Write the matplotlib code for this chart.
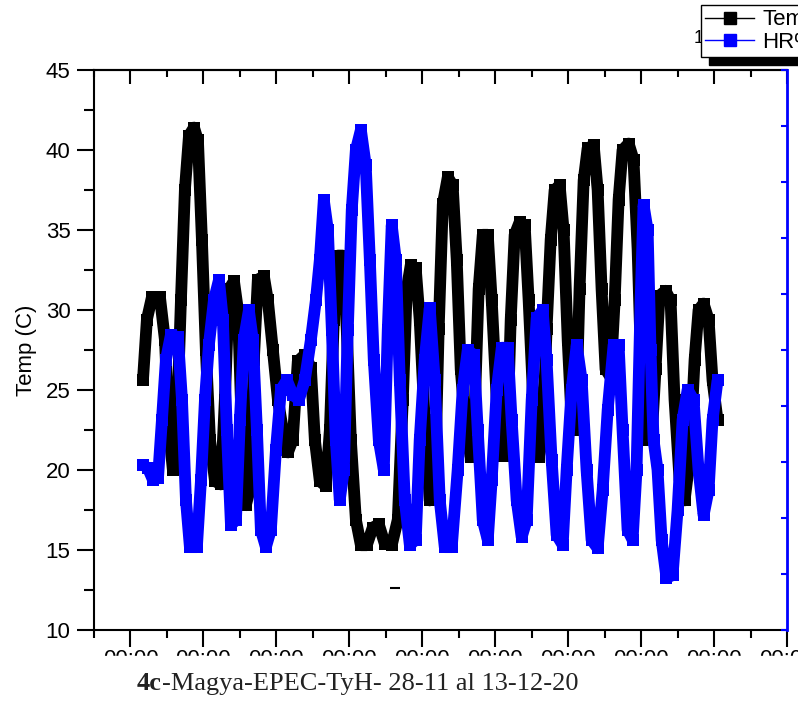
import pandas as pd
import matplotlib
matplotlib.use('Agg')
import matplotlib.pyplot as plt
import matplotlib.dates as mdates
from matplotlib.lines import Line2D
from matplotlib.patches import Rectangle
from matplotlib.ticker import MultipleLocator, FixedLocator, NullFormatter

plt.rcParams['font.family'] = ['Liberation Sans', 'DejaVu Sans']

# time in hours since 28-11-2020 00:00
start = pd.Timestamp('2020-11-28 00:00')

temp_h = [8.2, 10.8, 14.1, 19.4, 22.7, 25.3, 27.9, 30.6, 33.2, 35.8, 38.5, 41.8, 44.4, 47.0,
          49.6, 52.3, 55.6, 59.5, 62.1, 64.8, 68.1, 70.7, 73.3, 75.9, 78.6, 81.2, 83.8, 87.8,
          90.4, 93.7, 97.0, 100.3, 103.6, 106.8, 110.1, 114.7, 118.7, 121.3, 124.6, 128.5,
          131.2, 133.8, 136.4, 139.7, 142.3, 145.0, 148.3, 151.6, 155.5, 159.4, 163.4, 167.3,
          171.9, 175.9, 179.2, 181.8, 184.4, 187.7, 190.3, 193.6, 196.9, 200.2, 202.8, 205.5,
          208.8, 212.0, 214.7, 217.3, 220.6, 223.9, 226.5, 229.1, 231.8, 235.1, 237.7, 241.0,
          244.3, 247.5, 250.2, 252.8, 256.1, 259.4, 262.0, 265.3, 268.6, 271.2, 273.8, 276.5,
          279.1, 282.4, 285.0, 287.7, 290.3, 292.9, 295.5, 298.2, 300.8, 304.8, 307.4, 310.0,
          312.6, 315.9, 318.6, 321.2, 323.8, 327.8, 331.0, 333.7, 336.3, 339.6, 342.9, 345.5,
          348.1, 352.1, 355.4, 358.0, 361.3, 364.6, 367.9, 371.2, 373.8, 377.1, 380.4, 383.0,
          386.3]
temp_c = [25.6, 29.4, 30.8, 30.8, 28.1, 22.5, 20.0, 23.1, 30.6, 37.5, 40.9, 41.4, 40.6, 34.4,
          27.5, 21.9, 19.3, 19.1, 24.4, 31.3, 31.8, 30.0, 22.5, 17.8, 18.8, 26.9, 31.9, 32.1,
          30.6, 27.5, 24.4, 22.5, 21.1, 21.9, 26.8, 27.2, 26.4, 21.9, 19.3, 19.0,
          22.5, 29.4, 33.4, 33.4, 28.8, 21.9, 16.9, 15.3, 15.3, 16.4, 16.6, 15.4,
          15.3, 16.9, 24.4, 31.3, 32.8, 32.6, 29.4, 23.1, 18.1, 18.8, 28.8, 36.6,
          38.3, 37.8, 33.1, 26.3, 22.5, 20.8, 23.8, 31.3, 34.7, 34.7, 30.6, 24.4,
          20.9, 20.9, 29.4, 34.7, 35.5, 35.3, 30.6, 23.8, 20.8, 21.9, 28.8, 34.4,
          37.5, 37.8, 35.0, 28.1, 23.1, 22.5, 31.3, 38.1, 40.1, 40.3, 37.5, 31.3,
          26.3, 25.8, 30.6, 36.9, 40.0, 40.4, 39.4, 33.8, 25.6, 21.9, 21.9, 26.3,
          30.9, 31.2, 30.6, 24.4, 19.4, 18.1, 20.6, 26.9, 30.0, 30.4, 29.4, 25.6,
          23.1]

# isolated low reading
glitch_h = [173.9]
glitch_c = [12.6]

hr_h = [8.2, 11.5, 14.8, 18.1, 20.7, 23.3, 26.6, 31.2, 33.9, 36.5, 39.1, 43.7, 46.4, 49.0,
        51.6, 54.9, 58.2, 60.8, 63.4, 66.1, 69.4, 72.0, 74.6, 77.9, 80.5, 83.2, 85.8, 89.1,
        92.4, 95.7, 99.0, 102.9, 106.8, 110.8, 114.7, 118.7, 122.0, 124.6, 127.2, 129.9,
        132.5, 135.1, 137.7, 140.4, 143.0, 145.6, 148.3, 151.6, 154.8, 157.5, 160.1, 163.4,
        166.7, 169.3, 171.9, 174.6, 177.2, 180.5, 183.8, 187.7, 190.3, 193.6, 196.9, 200.2,
        203.5, 206.8, 211.4, 215.3, 218.6, 221.9, 225.9, 228.5, 231.8, 235.1, 237.7, 241.0,
        244.3, 248.2, 250.8, 254.1, 257.4, 260.7, 264.0, 267.3, 271.2, 273.8, 277.1, 280.4,
        284.4, 287.0, 290.3, 293.6, 296.9, 300.1, 303.4, 307.4, 310.7, 314.0, 317.9, 321.2,
        323.8, 327.1, 330.4, 333.0, 335.7, 337.6, 340.3, 342.2, 344.2, 346.8, 349.5, 352.7,
        356.7, 360.0, 363.3, 366.6, 370.5, 373.8, 377.1, 380.4, 383.0, 386.3]
hr_pct = [29.5, 28.9, 26.8, 27.1, 37.5, 48.2, 52.7, 52.3, 41.1, 23.2, 14.8, 14.8, 26.8, 41.1,
          50.9, 58.9, 62.5, 55.4, 35.7, 18.8, 19.6, 37.5, 51.8, 57.1, 51.8, 35.7, 17.9, 14.8,
          17.9, 32.1, 42.9, 44.6, 42.0, 41.1, 44.6, 51.8, 58.9, 66.1, 76.8, 71.4,
          53.6, 33.9, 23.2, 28.6, 53.6, 75.0, 85.7, 89.3, 83.0, 66.1, 48.2, 33.9,
          28.6, 53.6, 72.3, 66.1, 44.6, 23.2, 15.2, 16.1, 33.9, 48.2, 57.5, 44.6,
          23.2, 14.8, 14.8, 28.6, 42.9, 50.0, 49.1, 35.7, 19.6, 16.1, 26.8, 42.9,
          50.4, 50.4, 37.5, 23.2, 16.6, 19.6, 41.1, 55.7, 57.1, 48.2, 30.4, 17.0,
          15.2, 28.6, 42.9, 50.9, 44.6, 28.6, 16.1, 14.6, 25.0, 39.3, 50.9, 50.9,
          35.7, 17.9, 16.1, 28.6, 58.9, 75.9, 71.4, 50.0, 33.9, 28.6, 16.1, 9.3,
          9.8, 21.4, 37.5, 42.9, 41.1, 28.6, 20.5, 25.0, 37.5, 44.6]

major_days = pd.date_range('2020-11-28', '2020-12-16', freq='2D')
minor_days = pd.date_range('2020-11-27', '2020-12-16', freq='D')
caption_bold = '4c'
caption_rest = '-Magya-EPEC-TyH- 28-11 al 13-12-20'

t_temp = start + pd.to_timedelta(temp_h, unit='h')
t_hr = start + pd.to_timedelta(hr_h, unit='h')
t_glitch = start + pd.to_timedelta(glitch_h, unit='h')

fig = plt.figure(figsize=(7.98, 7.03), dpi=100)
ax = fig.add_axes([94/798, 73/703, 693/798, 560/703])

ax.plot(t_temp, temp_c, color='black', lw=8.5, marker='s', ms=9, mew=0,
        solid_joinstyle='round', solid_capstyle='butt')
ax.plot(t_glitch, glitch_c, ls='none', marker='_', ms=7, mew=1.5, color='black')

major_nums = mdates.date2num(major_days)
minor_nums = mdates.date2num(minor_days)
ax.set_xlim(minor_nums[0], minor_nums[-1])
ax.set_ylim(10, 45)
ax.xaxis.set_major_locator(FixedLocator(major_nums))
ax.xaxis.set_minor_locator(FixedLocator(minor_nums))
ax.xaxis.set_major_formatter(mdates.DateFormatter('%H:%M'))
ax.yaxis.set_major_locator(MultipleLocator(5))
ax.yaxis.set_minor_locator(MultipleLocator(2.5))
ax.set_ylabel('Temp (C)', fontsize=16, labelpad=6)

ax.tick_params(axis='x', which='major', direction='out', length=12, width=1.5, labelsize=16, pad=2)
ax.tick_params(axis='x', which='minor', direction='out', length=6, width=1.5)
ax.tick_params(axis='y', which='major', direction='out', length=12, width=1.5, labelsize=16, pad=5)
ax.tick_params(axis='y', which='minor', direction='out', length=7, width=1.5)
ax.tick_params(which='both', top=False, right=False)
for s in ['left', 'bottom', 'top']:
    ax.spines[s].set_linewidth(1.5)
ax.spines['right'].set_visible(False)

# top ticks point inward
sec = ax.secondary_xaxis('top')
sec.xaxis.set_major_locator(FixedLocator(major_nums))
sec.xaxis.set_minor_locator(FixedLocator(minor_nums))
sec.xaxis.set_major_formatter(NullFormatter())
sec.tick_params(which='major', direction='in', length=10, width=1.5, labeltop=False)
sec.tick_params(which='minor', direction='in', length=5, width=1.5)
sec.spines['top'].set_linewidth(1.5)

ax2 = ax.twinx()
ax2.plot(t_hr, hr_pct, color='#0000ff', lw=8.5, marker='s', ms=9, mew=0,
         solid_joinstyle='round', solid_capstyle='butt')
ax2.set_ylim(0, 100)
ax2.set_yticks(range(0, 101, 10))
ax2.tick_params(axis='y', direction='in', length=4, width=1.5, color='#0000ff', labelright=False)
for s in ['left', 'bottom', 'top']:
    ax2.spines[s].set_visible(False)
ax2.spines['right'].set_color('#0000ff')
ax2.spines['right'].set_linewidth(2)

# legend with a solid black shadow, cut by the page edge
fig.text(694/798, 1 - 43/703, '100', fontsize=13, va='baseline', zorder=3)
fig.add_artist(Rectangle((709/798, 1 - 65/703), 0.2, 50/703, transform=fig.transFigure,
                         color='black', zorder=4))
handles = [Line2D([], [], color='black', lw=1, marker='s', ms=8),
           Line2D([], [], color='#0000ff', lw=1, marker='s', ms=8)]
leg = fig.legend(handles, ['Temp', 'HR%'], loc='upper left',
                 bbox_to_anchor=(701/798, 1 - 5/703), fontsize=16, frameon=True,
                 fancybox=False, edgecolor='black', framealpha=1, handlelength=2.2,
                 handletextpad=0.35, borderpad=0.2, labelspacing=0.05, borderaxespad=0)
leg.get_frame().set_linewidth(1.0)
leg.set_zorder(5)

# page caption over the lower half of the tick labels
fig.add_artist(Rectangle((0, 0), 1, 47/703, transform=fig.transFigure, color='white', zorder=10))
t1 = fig.text(137/798, 1 - 690/703, caption_bold, fontsize=19, fontweight='bold',
              family='Liberation Serif', color='#222222', va='baseline', zorder=11)
ann = ax.annotate(caption_rest, xy=(1, 0), xycoords=t1, va='bottom', ha='left', fontsize=19,
                  family='Liberation Serif', color='#222222', annotation_clip=False)
ann.remove()
ann.set_zorder(11)
fig.add_artist(ann)

fig.savefig('out.png', dpi=100)
